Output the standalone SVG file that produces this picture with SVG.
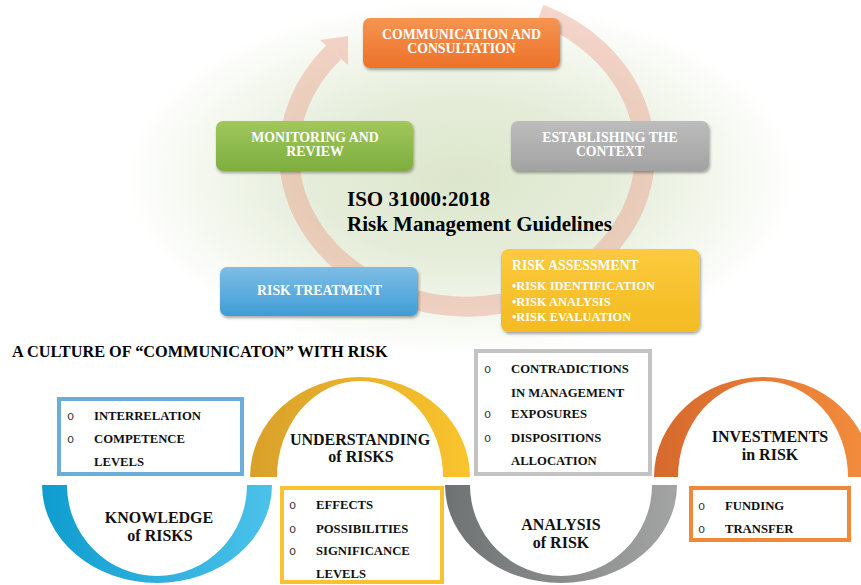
<svg xmlns="http://www.w3.org/2000/svg" width="861" height="585" viewBox="0 0 861 585">
  <defs>
    <radialGradient id="glow" cx="461" cy="178" r="1" gradientUnits="userSpaceOnUse" gradientTransform="translate(461 178) scale(335 178) translate(-461 -178)">
      <stop offset="0" stop-color="#dce6cb"/>
      <stop offset="0.45" stop-color="#e5edda"/>
      <stop offset="0.8" stop-color="#f5f8f0"/>
      <stop offset="1" stop-color="#ffffff"/>
    </radialGradient>
    <linearGradient id="gOrange" x1="0" y1="0" x2="0" y2="1">
      <stop offset="0" stop-color="#f49552"/>
      <stop offset="1" stop-color="#ee7128"/>
    </linearGradient>
    <linearGradient id="gGreen" x1="0" y1="0" x2="0" y2="1">
      <stop offset="0" stop-color="#a2c75c"/>
      <stop offset="1" stop-color="#7dae3f"/>
    </linearGradient>
    <linearGradient id="gGrey" x1="0" y1="0" x2="0" y2="1">
      <stop offset="0" stop-color="#bdbdbd"/>
      <stop offset="1" stop-color="#a2a2a2"/>
    </linearGradient>
    <linearGradient id="gBlue" x1="0" y1="0" x2="0" y2="1">
      <stop offset="0" stop-color="#7fbde6"/>
      <stop offset="1" stop-color="#3f9dd5"/>
    </linearGradient>
    <linearGradient id="gYellow" x1="0" y1="0" x2="0" y2="1">
      <stop offset="0" stop-color="#fbca3d"/>
      <stop offset="1" stop-color="#f4bb22"/>
    </linearGradient>
    <linearGradient id="aBlue" x1="0" y1="0" x2="1" y2="0">
      <stop offset="0" stop-color="#0e9dcf"/>
      <stop offset="1" stop-color="#4cc2eb"/>
    </linearGradient>
    <linearGradient id="aGold" x1="0" y1="0" x2="1" y2="0">
      <stop offset="0" stop-color="#d9a02a"/>
      <stop offset="1" stop-color="#fac42d"/>
    </linearGradient>
    <linearGradient id="aGrey" x1="0" y1="0" x2="1" y2="0">
      <stop offset="0" stop-color="#6e7272"/>
      <stop offset="1" stop-color="#a4a4a4"/>
    </linearGradient>
    <linearGradient id="aOrange" x1="0" y1="0" x2="1" y2="0">
      <stop offset="0" stop-color="#d6692d"/>
      <stop offset="1" stop-color="#f38d3c"/>
    </linearGradient>
    <filter id="shadow" x="-10%" y="-20%" width="120%" height="150%">
      <feDropShadow dx="1" dy="2" stdDeviation="1.5" flood-color="#000" flood-opacity="0.35"/>
    </filter>
    <style>
      text { font-family: "Liberation Serif", "Times New Roman", serif; font-weight: bold; }
      .box { stroke: none; filter: url(#shadow); }
      .wt { fill: #ffffff; font-size: 13.8px; text-anchor: middle; }
      .wl { fill: #ffffff; font-size: 13.7px; }
      .ws { fill: #ffffff; font-size: 12.4px; }
      .title { fill: #000000; font-size: 21px; }
      .head { fill: #000000; font-size: 16.3px; }
      .lbl { fill: #111111; font-size: 16px; text-anchor: middle; }
      .item { fill: #111111; font-size: 12.7px; }
      .bul { fill: #333333; font-family: "Liberation Mono", "Courier New", monospace; font-weight: normal; font-size: 12px; }
      .frame { fill: #ffffff; stroke-width: 4; }
    </style>
  </defs>

  <rect x="0" y="0" width="861" height="585" fill="#ffffff"/>
  <!-- soft green backdrop behind the cycle -->
  <rect x="0" y="0" width="861" height="360" fill="url(#glow)"/>

  <!-- circular arrow linking the cycle stages -->
  <g id="connectors" opacity="0.33" fill="#e8846a" stroke="#e8846a">
    <path d="M 540 14 A 178 153 0 1 1 334 52" fill="none" stroke-width="20"/>
    <polygon points="320,40 348,36 348,65" stroke="none"/>
  </g>

  <g id="communication">
    <rect class="box" x="363" y="18" width="197" height="50" rx="7" fill="url(#gOrange)"/>
    <text class="wt" x="461.5" y="38.5">COMMUNICATION AND</text>
    <text class="wt" x="461.5" y="52.5">CONSULTATION</text>
  </g>

  <g id="monitoring">
    <rect class="box" x="216" y="121" width="197" height="50" rx="7" fill="url(#gGreen)"/>
    <text class="wt" x="315" y="142">MONITORING AND</text>
    <text class="wt" x="315" y="156">REVIEW</text>
  </g>

  <g id="context">
    <rect class="box" x="511" y="121" width="198" height="50" rx="7" fill="url(#gGrey)"/>
    <text class="wt" x="610" y="142">ESTABLISHING THE</text>
    <text class="wt" x="610" y="156">CONTEXT</text>
  </g>

  <g id="centre-title">
    <text class="title" x="347" y="206">ISO 31000:2018</text>
    <text class="title" x="347" y="231">Risk Management Guidelines</text>
  </g>

  <g id="treatment">
    <rect class="box" x="220" y="267" width="198" height="49" rx="7" fill="url(#gBlue)"/>
    <text class="wt" x="319.5" y="295">RISK TREATMENT</text>
  </g>

  <g id="assessment">
    <rect class="box" x="501" y="249" width="199" height="83" rx="8" fill="url(#gYellow)"/>
    <text class="wl" x="512" y="269.5">RISK ASSESSMENT</text>
    <text class="ws" x="512" y="289.5">•RISK IDENTIFICATION</text>
    <text class="ws" x="512" y="305.5">•RISK ANALYSIS</text>
    <text class="ws" x="512" y="320.5">•RISK EVALUATION</text>
  </g>

  <g id="culture-heading">
    <text class="head" x="12" y="357">A CULTURE OF “COMMUNICATON” WITH RISK</text>
  </g>

  <g id="knowledge">
    <path d="M 42 485 A 115 98 0 0 0 272 485 L 247 485 A 90 91 0 0 1 67 485 Z" fill="url(#aBlue)"/>
    <text class="lbl" x="159" y="523">KNOWLEDGE</text>
    <text class="lbl" x="160" y="541">of RISKS</text>
  </g>

  <g id="knowledge-list">
    <rect class="frame" x="59" y="399" width="183" height="75" stroke="#6aaddb"/>
    <text class="bul" x="67" y="420">o</text>
    <text class="item" x="94" y="420">INTERRELATION</text>
    <text class="bul" x="67" y="443">o</text>
    <text class="item" x="94" y="443">COMPETENCE</text>
    <text class="item" x="94" y="466">LEVELS</text>
  </g>

  <g id="understanding">
    <path d="M 250 477 A 110 100 0 0 1 470 477 L 443 477 A 83 96 0 0 0 277 477 Z" fill="url(#aGold)"/>
    <text class="lbl" x="360" y="445">UNDERSTANDING</text>
    <text class="lbl" x="361" y="462">of RISKS</text>
  </g>

  <g id="understanding-list">
    <rect class="frame" x="282" y="488" width="160" height="94" stroke="#f9c22e"/>
    <text class="bul" x="289" y="509">o</text>
    <text class="item" x="316" y="509">EFFECTS</text>
    <text class="bul" x="289" y="533">o</text>
    <text class="item" x="316" y="533">POSSIBILITIES</text>
    <text class="bul" x="289" y="555">o</text>
    <text class="item" x="316" y="555">SIGNIFICANCE</text>
    <text class="item" x="316" y="578">LEVELS</text>
  </g>

  <g id="analysis">
    <path d="M 445 485 A 116 98 0 0 0 677 485 L 652 485 A 91 91 0 0 1 470 485 Z" fill="url(#aGrey)"/>
    <text class="lbl" x="561" y="530">ANALYSIS</text>
    <text class="lbl" x="561" y="548">of RISK</text>
  </g>

  <g id="analysis-list">
    <rect class="frame" x="476" y="351" width="174" height="123" stroke="#c3c3c3"/>
    <text class="bul" x="484" y="373">o</text>
    <text class="item" x="511" y="373">CONTRADICTIONS</text>
    <text class="item" x="511" y="397">IN MANAGEMENT</text>
    <text class="bul" x="484" y="418">o</text>
    <text class="item" x="511" y="418">EXPOSURES</text>
    <text class="bul" x="484" y="442">o</text>
    <text class="item" x="511" y="442">DISPOSITIONS</text>
    <text class="item" x="511" y="465">ALLOCATION</text>
  </g>

  <g id="investments">
    <path d="M 654 477 A 109 100 0 0 1 872 477 L 848 477 A 85 96 0 0 0 678 477 Z" fill="url(#aOrange)"/>
    <text class="lbl" x="770" y="442">INVESTMENTS</text>
    <text class="lbl" x="770" y="460">in RISK</text>
  </g>

  <g id="investments-list">
    <rect class="frame" x="691" y="488" width="158" height="52" stroke="#f0883a"/>
    <text class="bul" x="698" y="510">o</text>
    <text class="item" x="725" y="510">FUNDING</text>
    <text class="bul" x="698" y="533">o</text>
    <text class="item" x="725" y="533">TRANSFER</text>
  </g>
</svg>
